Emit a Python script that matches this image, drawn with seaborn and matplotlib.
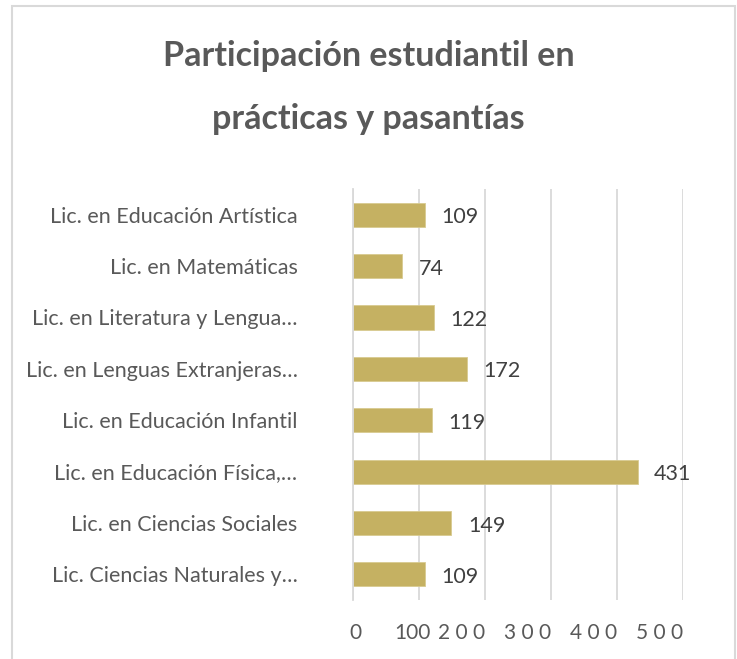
import matplotlib
matplotlib.use('Agg')
import matplotlib.pyplot as plt
import seaborn as sns
import pandas as pd
from matplotlib.patches import Rectangle
from matplotlib.transforms import ScaledTranslation

# ==============================
# DATA
# ==============================
carreras = [
    'Lic. en Educación Artística',
    'Lic. en Matemáticas',
    'Lic. en Literatura y Lengua…',
    'Lic. en Lenguas Extranjeras…',
    'Lic. en Educación Infantil',
    'Lic. en Educación Física,…',
    'Lic. en Ciencias Sociales',
    'Lic. Ciencias Naturales y…',
]
estudiantes = [109, 74, 122, 172, 119, 431, 149, 109]
x_ticks = [0, 100, 200, 300, 400, 500]
x_tick_labels = ['0', '100', '2 0 0', '3 0 0', '4 0 0', '5 0 0']

df = pd.DataFrame({'Carrera': carreras, 'Estudiantes': estudiantes})

# ==============================
# STYLE
# ==============================
sns.set_style('white')
plt.rcParams['font.family'] = ['Lato', 'DejaVu Sans']

BAR_COLOR = '#C5B162'
GRID_COLOR = '#D9D9D9'
TEXT_COLOR = '#595959'

fig = plt.figure(figsize=(7.37, 6.59), dpi=100)
ax = fig.add_axes([0.479, 0.0895, 0.448, 0.6237])

sns.barplot(data=df, y='Carrera', x='Estudiantes', orient='h',
            color=BAR_COLOR, width=0.47, saturation=1,
            edgecolor='#D8CB90', linewidth=0.6, ax=ax)

# etiquetas de valor
for i, v in enumerate(estudiantes):
    ax.text(v + 25, i + 0.05, f'{v}', va='center', ha='left',
            fontsize=15.5, color='#404040')

ax.set_xlim(0, 500)
ax.set_ylim(len(carreras) - 0.5, -0.5)
ax.set_xticks(x_ticks)
ax.set_xticklabels([])
ax.tick_params(axis='x', length=0)

# etiquetas del eje x a mano (como en el original, desalineadas)
for k, (pos, txt) in enumerate(zip(x_ticks, x_tick_labels)):
    if k == 0:
        ha, dx = 'center', 2
    elif k == 1:
        ha, dx = 'center', -7
    else:
        ha, dx = 'right', 0
    tr = ax.get_xaxis_transform() + ScaledTranslation(dx / 100, -33 / 100, fig.dpi_scale_trans)
    ax.text(pos, 0, txt, transform=tr, ha=ha, va='center',
            fontsize=15, color=TEXT_COLOR, clip_on=False)

ax.tick_params(axis='y', which='major', length=0, pad=40)
ax.set_yticks([i - 0.5 for i in range(len(carreras) + 1)], minor=True)
ax.tick_params(axis='y', which='minor', length=7, width=1.2, color=GRID_COLOR)
ax.set_yticklabels(carreras, fontsize=15.5, color=TEXT_COLOR)

ax.grid(axis='x', color=GRID_COLOR, linewidth=1.3)
ax.set_axisbelow(True)
ax.set_xlabel('')
ax.set_ylabel('')
for s in ['top', 'right', 'bottom']:
    ax.spines[s].set_visible(False)
ax.spines['left'].set_color(GRID_COLOR)
ax.spines['left'].set_linewidth(1.3)

# titulo en dos lineas
fig.text(0.5, 1 - 56 / 659, 'Participación estudiantil en', ha='center', va='center',
         fontsize=24.5, fontweight='bold', color=TEXT_COLOR)
fig.text(0.5, 1 - 119 / 659, 'prácticas y pasantías', ha='center', va='center',
         fontsize=24.5, fontweight='bold', color=TEXT_COLOR)

# borde del grafico
fig.patches.append(Rectangle((12 / 737, -0.05), (735 - 12) / 737, 1.05 - 6 / 659,
                             transform=fig.transFigure, fill=False,
                             edgecolor=GRID_COLOR, linewidth=1.5))

fig.savefig('out.png', dpi=100, facecolor='white')
plt.close(fig)
